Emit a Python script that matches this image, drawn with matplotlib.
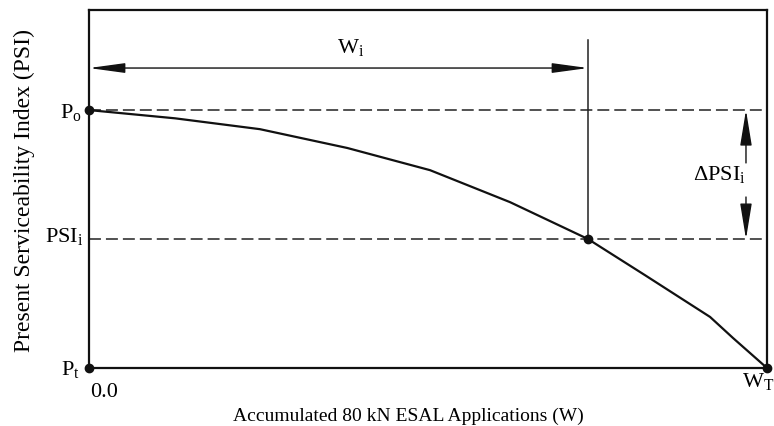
import matplotlib
matplotlib.use("Agg")
import matplotlib.pyplot as plt
from matplotlib.patches import FancyArrowPatch

plt.rcParams['font.family'] = ['Liberation Serif', 'DejaVu Serif']
plt.rcParams['mathtext.fontset'] = 'custom'
plt.rcParams['mathtext.rm'] = 'Liberation Serif'
plt.rcParams['mathtext.it'] = 'Liberation Serif:italic'
plt.rcParams['lines.scale_dashes'] = False

# serviceability curve (W normalised to W_T, PSI normalised between Pt and Po)
w = [0.0, 0.127, 0.252, 0.381, 0.503, 0.621, 0.736, 0.820, 0.916, 0.950, 1.0]
psi = [1.0, 0.968, 0.926, 0.853, 0.767, 0.643, 0.5, 0.360, 0.198, 0.116, 0.0]

p_o = 1.0
psi_i = 0.5
p_t = 0.0
w_i = 0.736
w_t = 1.0

fig = plt.figure(figsize=(7.74, 4.26), dpi=100)
ax = fig.add_axes([89 / 774, 58 / 426, 678 / 774, 358 / 426])
ax.set_xlim(0, 1)
ax.set_ylim(0, 1.388)
ax.set_xticks([])
ax.set_yticks([])
for s in ax.spines.values():
    s.set_linewidth(1.6)
    s.set_color('#111111')

# dashed reference levels
ax.axhline(p_o, color='#222222', lw=1.1, dashes=(8.6, 3.6))
ax.axhline(psi_i, color='#222222', lw=1.1, dashes=(8.6, 3.6))

# curve
ax.plot(w, psi, color='#111111', lw=1.6)

# vertical line at W_i
ax.plot([w_i, w_i], [psi_i, 1.271], color='#222222', lw=1.1)

# dots
ax.plot([0, 0, w_t, w_i], [p_o, p_t, p_t, psi_i], 'o', color='#111111',
        ms=6, clip_on=False, zorder=5)

# W_i dimension arrow
arr = FancyArrowPatch((0, 1.163), (w_i, 1.163),
                      arrowstyle='<|-|>,head_length=2.2,head_width=0.3',
                      mutation_scale=10, color='#111111', lw=1.0,
                      shrinkA=0, shrinkB=0)
ax.add_patch(arr)

# delta PSI arrow, split around its label
xd = 0.969
for y0, y1 in [(0.795, p_o), (0.663, psi_i)]:
    ax.add_patch(FancyArrowPatch((xd, y0), (xd, y1),
                                 arrowstyle='-|>,head_length=2.2,head_width=0.36',
                                 mutation_scale=10, color='#111111', lw=1.0,
                                 shrinkA=0, shrinkB=0))

fs = 16
ax.text(0.366, 1.221, r'$\mathrm{W}_\mathrm{i}$', fontsize=fs, ha='left', va='baseline')
ax.text(0.891, 0.729, r'$\mathrm{\Delta PSI}_\mathrm{i}$', fontsize=fs, ha='left', va='baseline')
ax.text(-0.010, 0.969, r'$\mathrm{P}_\mathrm{o}$', fontsize=fs, ha='right', va='baseline', clip_on=False)
ax.text(-0.009, 0.488, r'$\mathrm{PSI}_\mathrm{i}$', fontsize=fs, ha='right', va='baseline', clip_on=False)
ax.text(-0.013, -0.027, r'$\mathrm{P}_\mathrm{t}$', fontsize=fs, ha='right', va='baseline', clip_on=False)
ax.text(0.0015, -0.112, '0.0', fontsize=fs, ha='left', va='baseline', clip_on=False)
ax.text(0.963, -0.074, r'$\mathrm{W}_\mathrm{T}$', fontsize=fs, ha='left', va='baseline', clip_on=False)

fig.text(408 / 774, 5 / 426, 'Accumulated 80 kN ESAL Applications (W)',
         fontsize=14, ha='center', va='baseline')
fig.text(24 / 774, 1 - 190 / 426, 'Present Serviceability Index (PSI)',
         fontsize=17, rotation=90, ha='center', va='center')

fig.savefig('out.png', dpi=100)
